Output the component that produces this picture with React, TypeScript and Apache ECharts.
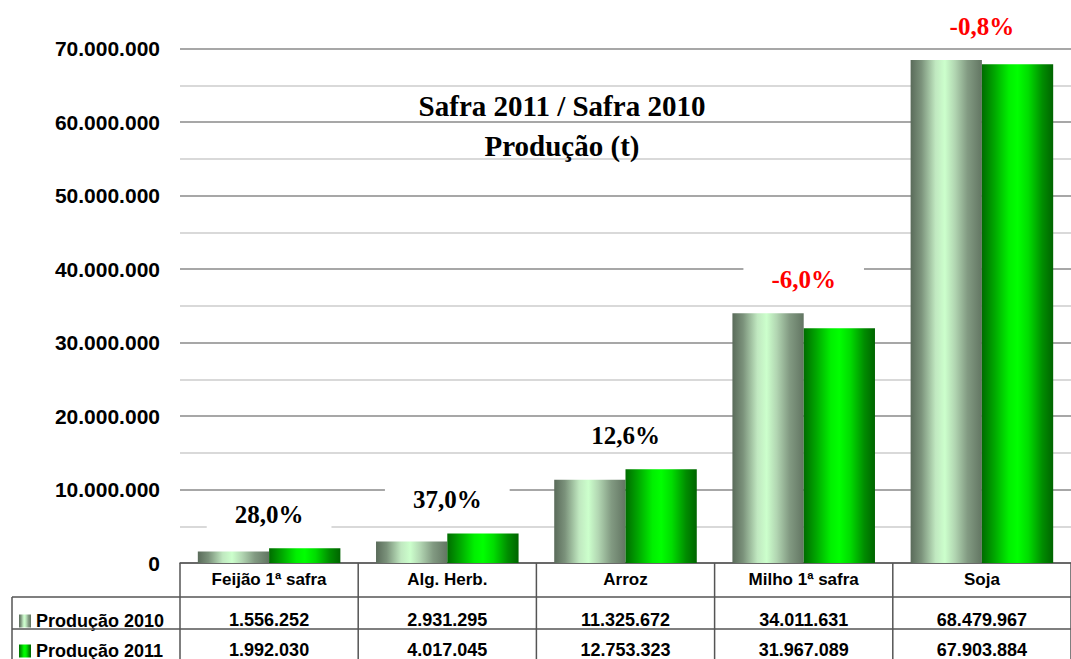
import React, { useEffect, useRef } from "react";
import * as echarts from "echarts";

const categories = ["Feijão 1ª safra", "Alg. Herb.", "Arroz", "Milho 1ª safra", "Soja"];
const prod2010 = [1556252, 2931295, 11325672, 34011631, 68479967];
const prod2011 = [1992030, 4017045, 12753323, 31967089, 67903884];
const seriesNames = ["Produção 2010", "Produção 2011"];
const titleLines = ["Safra 2011 / Safra 2010", "Produção (t)"];
const yMax = 75000000;
const yStep = 5000000;
const yLabelStep = 10000000;

const fmt = (v: number) => Math.round(v).toString().replace(/\B(?=(\d{3})+(?!\d))/g, ".");
const pct = (a: number, b: number) => ((b / a - 1) * 100).toFixed(1).replace(".", ",") + "%";

const SANS = "Liberation Sans, Arial, sans-serif";
const SERIF = "Liberation Serif, Times New Roman, serif";

const grad2010 = new echarts.graphic.LinearGradient(0, 0, 1, 0, [
  { offset: 0, color: "#5a6b5a" },
  { offset: 0.15, color: "#7b927b" },
  { offset: 0.35, color: "#c0e8c0" },
  { offset: 0.48, color: "#ccffcc" },
  { offset: 0.62, color: "#b2d6b2" },
  { offset: 0.8, color: "#829a82" },
  { offset: 1, color: "#627562" },
]);
const grad2011 = new echarts.graphic.LinearGradient(0, 0, 1, 0, [
  { offset: 0, color: "#006c00" },
  { offset: 0.18, color: "#00a800" },
  { offset: 0.38, color: "#00f000" },
  { offset: 0.5, color: "#00ff00" },
  { offset: 0.65, color: "#00dd00" },
  { offset: 0.85, color: "#008c00" },
  { offset: 1, color: "#006400" },
]);

export default function App() {
  const ref = useRef<HTMLDivElement>(null);
  useEffect(() => {
    if (!ref.current) return;
    const chart = echarts.init(ref.current, undefined, { renderer: "svg" });
    const lineColor = "#555555";
    const legendBase = {
      orient: "vertical",
      left: 14,
      itemWidth: 12,
      itemHeight: 13,
      icon: "rect",
      textStyle: { fontFamily: SANS, fontWeight: "bold", fontSize: 18, color: "#000" },
    };
    const rowAxis = (data: string[], offset: number) => ({
      type: "category",
      data,
      position: "bottom",
      offset,
      axisLine: { show: false },
      axisTick: { show: false },
      splitLine: { show: false },
      axisLabel: { margin: 8, fontFamily: SANS, fontWeight: "bold", fontSize: 18, color: "#000" },
    });
    const option: any = {
      animation: false,
      backgroundColor: "#ffffff",
      title: {
        text: titleLines.join("\n"),
        left: 557,
        top: 81,
        textAlign: "center",
        textStyle: {
          fontFamily: SERIF,
          fontWeight: "bold",
          fontSize: 29,
          lineHeight: 40,
          color: "#000",
        },
      },
      legend: [
        { ...legendBase, data: [seriesNames[0]], top: 607 },
        { ...legendBase, data: [seriesNames[1]], top: 637 },
      ],
      grid: { left: 180, right: -11, top: 12, bottom: 91, containLabel: false },
      xAxis: [
        {
          type: "category",
          data: categories,
          axisLine: { show: true, lineStyle: { color: lineColor, width: 1.5 } },
          axisTick: { show: false },
          splitLine: { show: false },
          axisLabel: { margin: 8, fontFamily: SANS, fontWeight: "bold", fontSize: 17, color: "#000" },
        },
        rowAxis(prod2010.map(fmt), 40),
        rowAxis(prod2011.map(fmt), 70),
      ],
      yAxis: {
        type: "value",
        min: 0,
        max: yMax,
        interval: yStep,
        axisLine: { show: false },
        axisTick: { show: false },
        axisLabel: {
          margin: 20,
          fontFamily: SANS,
          fontWeight: "bold",
          fontSize: 21,
          color: "#000",
          formatter: (v: number) => (v % yLabelStep === 0 && v < yMax ? fmt(v) : ""),
        },
        splitLine: {
          show: true,
          showMaxLine: false,
          lineStyle: { color: ["#8a8a8a", "#cccccc"], width: 1.5 },
        },
      },
      series: [
        {
          name: seriesNames[0],
          type: "bar",
          data: prod2010,
          barGap: "0%",
          barCategoryGap: "20%",
          itemStyle: { color: grad2010 },
        },
        {
          name: seriesNames[1],
          type: "bar",
          data: prod2011,
          barGap: "0%",
          barCategoryGap: "20%",
          itemStyle: { color: grad2011 },
        },
        {
          name: "variação",
          type: "scatter",
          symbolSize: 0,
          z: 10,
          itemStyle: { opacity: 1 },
          data: categories.map((c, i) => {
            const neg = prod2011[i] < prod2010[i];
            return {
              value: Math.max(prod2010[i], prod2011[i]),
              label: { color: neg ? "#ff0000" : "#000000" },
              p: pct(prod2010[i], prod2011[i]),
            };
          }),
          label: {
            show: true,
            position: "top",
            distance: 18,
            formatter: (params: any) => params.data.p,
            fontFamily: SERIF,
            fontWeight: "bold",
            fontSize: 25,
            backgroundColor: "#ffffff",
            padding: [3, 28],
          },
        },
      ],
    };
    chart.setOption(option);

    // table borders derived from the category axis layout
    const c0 = chart.convertToPixel({ xAxisIndex: 0 }, categories[0]) as number;
    const c1 = chart.convertToPixel({ xAxisIndex: 0 }, categories[1]) as number;
    const catW = c1 - c0;
    const axisY = chart.convertToPixel({ yAxisIndex: 0 }, 0) as number;
    const row1 = axisY + 34;
    const row2 = axisY + 66;
    const bottomY = 659;
    const st = { stroke: lineColor, lineWidth: 1.5 };
    const graphics: any[] = [
      { type: "line", shape: { x1: 12, y1: row1, x2: 1071, y2: row1 }, style: st, z: 100 },
      { type: "line", shape: { x1: 12, y1: row2, x2: 1071, y2: row2 }, style: st, z: 100 },
      { type: "line", shape: { x1: 12, y1: row1, x2: 12, y2: bottomY }, style: st, z: 100 },
    ];
    for (let i = 0; i <= categories.length; i++) {
      const x = c0 - catW / 2 + i * catW;
      if (x > 1071) continue;
      graphics.push({ type: "line", shape: { x1: x, y1: axisY, x2: x, y2: bottomY }, style: st, z: 100 });
    }
    chart.setOption({ graphic: graphics });
    return () => chart.dispose();
  }, []);
  return (
    <div
      ref={ref}
      style={{ position: "absolute", left: 0, top: 0, width: 1071, height: 659 }}
    />
  );
}
